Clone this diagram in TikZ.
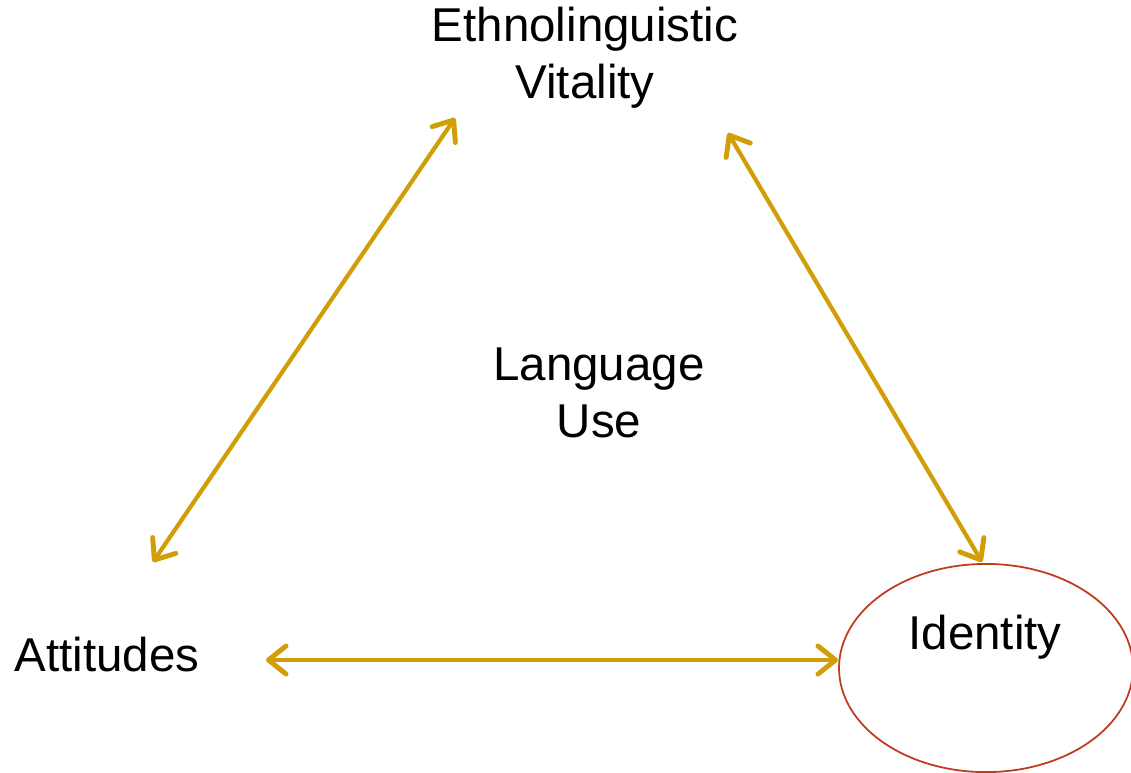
\documentclass[tikz,border=0pt]{standalone}
\usepackage{fontspec}
\setmainfont{Liberation Sans}
\usetikzlibrary{arrows.meta,shapes.geometric}
\definecolor{linkgold}{RGB}{210,158,8}
\definecolor{identred}{RGB}{192,58,28}

\begin{document}
\begin{tikzpicture}[x=0.01cm,y=-0.01cm,
        label/.style={align=center,font=\fontsize{13.5}{16.2}\selectfont},
        link/.style={linkgold,line width=1.2pt,line cap=round,
            {Straight Barb[length=5pt,width=8pt,line width=1.4pt,round]}-{Straight Barb[length=5pt,width=8pt,line width=1.4pt,round]}}]
        \useasboundingbox (0,0) rectangle (1131,772);

        % 创建四个文字节点
        \node[label] (vitality) at (585,58) {Ethnolinguistic\\Vitality};
        \node[label] (languse) at (599,393) {Language\\Use};
        \node[label] (attitudes) at (107,655) {Attitudes};
        \node[ellipse,draw=identred,line width=0.5pt,inner sep=0pt,outer sep=0pt,
            minimum width=83.6pt,minimum height=59.2pt] (circ) at (986,668) {};
        \node[label] (identity) at (985,637) {Identity};

        % 箭头端点
        \coordinate (v1) at (455,118);
        \coordinate (a1) at (153,562);
        \coordinate (v2) at (728,133);
        \coordinate (i2) at (982,562);
        \coordinate (a3) at (266,660);
        \coordinate (i3) at (838,660);

        % 添加连接线
        \draw[link] (a1) -- (v1);
        \draw[link] (v2) -- (i2);
        \draw[link] (a3) -- (i3);
    \end{tikzpicture}
\end{document}
